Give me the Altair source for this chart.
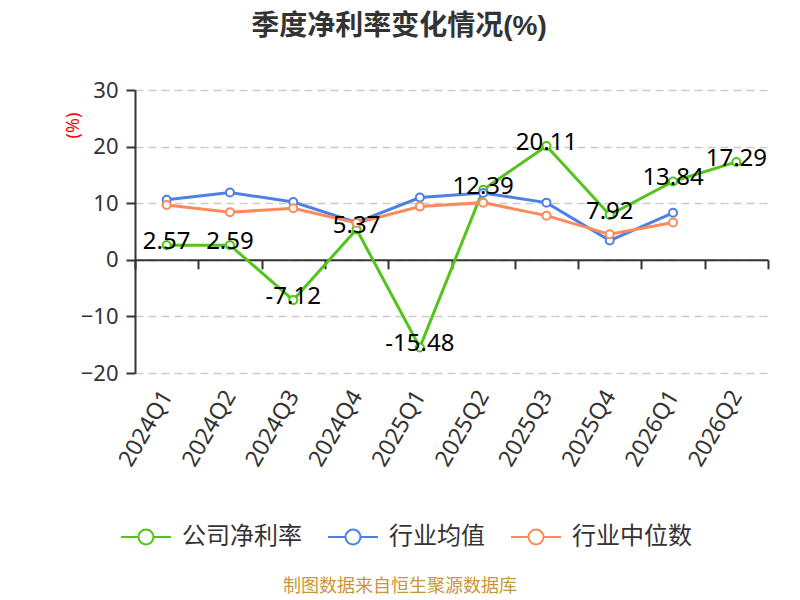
import altair as alt
import pandas as pd

quarters = ["2024Q1", "2024Q2", "2024Q3", "2024Q4", "2025Q1",
            "2025Q2", "2025Q3", "2025Q4", "2026Q1", "2026Q2"]
company = [2.57, 2.59, -7.12, 5.37, -15.48, 12.39, 20.11, 7.92, 13.84, 17.29]
ind_mean = [10.6, 11.9, 10.2, 6.6, 11.0, 11.8, 10.1, 3.4, 8.3]
ind_median = [9.7, 8.4, 9.1, 6.5, 9.4, 10.1, 7.8, 4.5, 6.6]

series_names = ["公司净利率", "行业均值", "行业中位数"]
series_colors = ["#52c41a", "#4e80e4", "#fc8a5a"]
title_text = "季度净利率变化情况(%)"
footer_text = "制图数据来自恒生聚源数据库"

rows = []
for name, vals in zip(series_names, [company, ind_mean, ind_median]):
    for q, v in zip(quarters, vals):
        rows.append({"quarter": q, "value": v, "series": name, "label": f"{v:.2f}"})
df = pd.DataFrame(rows)

H = 283
W = 633

x_enc = alt.X(
    "quarter:N", sort=quarters,
    scale=alt.Scale(type="band", paddingInner=0, paddingOuter=0, domain=quarters),
    axis=alt.Axis(title=None, labelAngle=-60, labelAlign="right", labelBaseline="middle",
                  labelFontSize=23, labelColor="#333", labelFont="Noto Sans",
                  labelPadding=123, offset=-H * 0.4,
                  domainColor="#333", domainWidth=2, tickColor="#333", tickWidth=2,
                  tickSize=9, tickBand="extent", grid=False),
)
y_enc = alt.Y(
    "value:Q",
    scale=alt.Scale(domain=[-20, 30], nice=False, zero=False),
    axis=alt.Axis(values=[-20, -10, 0, 10, 20, 30], title="(%)", titleColor="red",
                  titleFontSize=18, titleFontWeight="normal", titleFont="Noto Sans",
                  titleX=-62, titleY=35, titleAngle=270, titleAlign="center",
                  titleBaseline="middle",
                  labelFontSize=22, labelColor="#333", labelFont="Noto Sans", labelPadding=8,
                  tickSize=9, tickWidth=2, tickColor="#333",
                  domainColor="#333", domainWidth=2,
                  grid=True, gridDash=[8, 5], gridColor="#ccc", gridWidth=1.5),
)

color_scale = alt.Scale(domain=series_names, range=series_colors)
sym = "M-1,0L-0.3,0M0.3,0L1,0M-0.3,0A0.3,0.3,0,1,1,0.3,0A0.3,0.3,0,1,1,-0.3,0Z"

base = alt.Chart(df)

lines = base.mark_line(strokeWidth=3).encode(
    x=x_enc, y=y_enc,
    color=alt.Color("series:N", scale=color_scale, sort=series_names,
                    legend=alt.Legend(title=None, orient="none", direction="horizontal",
                                      legendX=-15, legendY=421,
                                      symbolType=sym, symbolSize=2500,
                                      symbolStrokeWidth=2, symbolFillColor="white",
                                      labelFontSize=24, labelColor="#333",
                                      labelFont="Noto Sans CJK SC",
                                      labelOffset=10, columnPadding=22)),
)

points = base.mark_point(shape="circle", filled=True, fill="white", size=64,
                         strokeWidth=2, opacity=1).encode(
    x="quarter:N", y="value:Q",
    stroke=alt.Stroke("series:N", scale=color_scale, legend=None),
)

labels = base.transform_filter(alt.datum.series == "公司净利率").mark_text(
    fontSize=24, font="Noto Sans", color="black", baseline="middle", dy=-3
).encode(x="quarter:N", y="value:Q", text="label:N")

footer = alt.Chart(pd.DataFrame({"t": [footer_text]})).mark_text(
    fontSize=18, font="Noto Sans CJK SC", color="#c8963a", baseline="middle", align="center"
).encode(x=alt.value(265), y=alt.value(497), text="t:N")

title = alt.Chart(pd.DataFrame({"t": [title_text]})).mark_text(
    fontSize=28, fontWeight="bold", font="Liberation Sans, Noto Sans CJK SC", color="#333",
    baseline="middle", align="center"
).encode(x=alt.value(264), y=alt.value(-63), text="t:N")

chart = alt.layer(lines, points, labels, footer, title).properties(
    width=W, height=H,
    autosize=alt.AutoSizeParams(type="none"),
    padding={"left": 127, "top": 82, "right": 24, "bottom": 227},
).resolve_scale(color="shared").configure_view(stroke=None)

chart.save("out.html", embed_options={"renderer": "svg", "actions": False})
